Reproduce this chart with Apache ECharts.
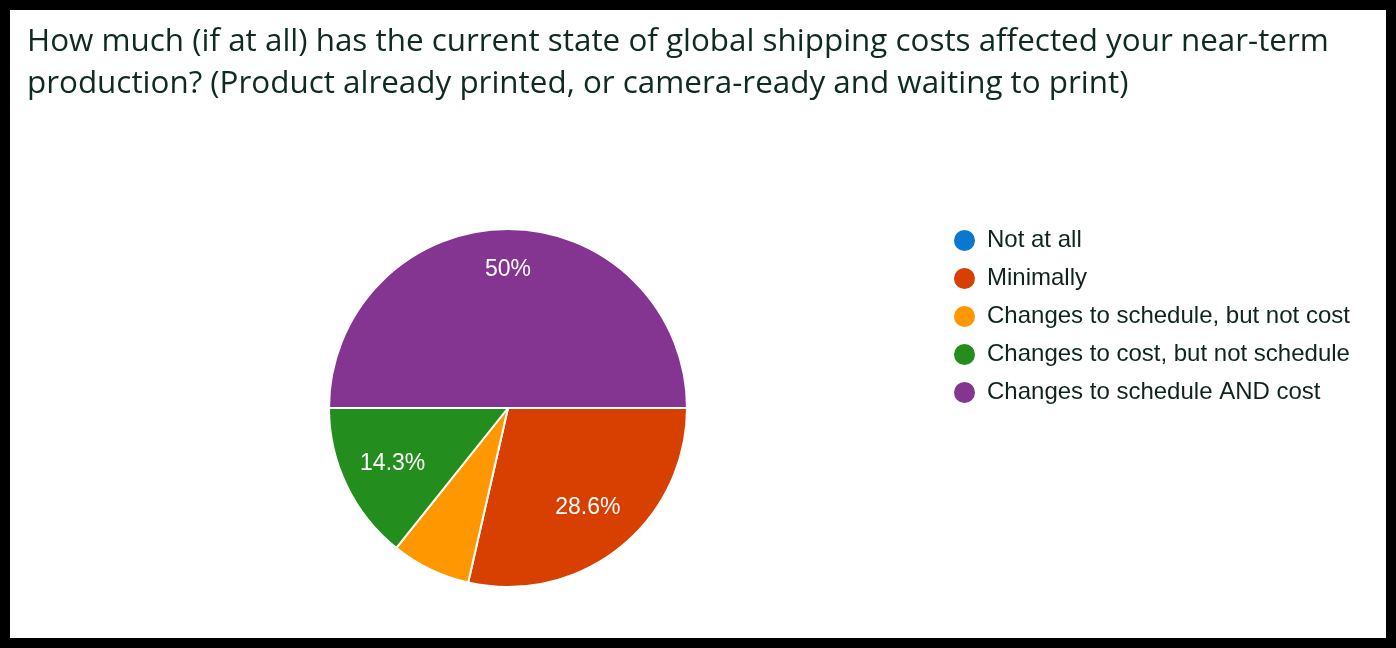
<!DOCTYPE html>
<html>
<head>
<meta charset="utf-8">
<script src="https://cdn.jsdelivr.net/npm/echarts@6/dist/echarts.min.js"></script>
<style>
  html, body { margin: 0; padding: 0; background: #000; width: 1396px; height: 648px; overflow: hidden; }
  #chart { position: absolute; left: 10px; top: 10px; width: 1376px; height: 628px; background: #fff; }
</style>
</head>
<body>
<div id="chart"></div>
<script>
const titleText = 'How much (if at all) has the current state of global shipping costs affected your near-term\nproduction? (Product already printed, or camera-ready and waiting to print)';
const categories = ['Not at all', 'Minimally', 'Changes to schedule, but not cost', 'Changes to cost, but not schedule', 'Changes to schedule AND cost'];
const counts = [0, 4, 1, 2, 7];
const colors = ['#0b77d0', '#d74000', '#ff9700', '#238e1e', '#843592'];

const total = counts.reduce((a, b) => a + b, 0);
function pctText(v) {
  const p = v / total * 100;
  if (p < 10) return '';
  let s = p.toFixed(1);
  if (s.endsWith('.0')) s = s.slice(0, -2);
  return s + '%';
}

const chart = echarts.init(document.getElementById('chart'), null, { renderer: 'canvas' });
const pieData = categories.map((c, i) => ({ name: c, value: counts[i], itemStyle: { color: colors[i] } }));
const labelData = categories.map((c, i) => ({
  name: c, value: counts[i],
  label: counts[i] / total === 0.5 ? { offset: [0, -10] } : {}
}));

chart.setOption({
  animation: false,
  title: {
    text: titleText,
    left: 17, top: 11,
    padding: 0,
    textStyle: { fontFamily: 'Open Sans', fontSize: 31.4, fontWeight: 'normal', color: '#0e2a22', lineHeight: 42 }
  },
  legend: {
    orient: 'vertical',
    left: 942, top: 218,
    padding: 0,
    icon: 'circle',
    itemWidth: 23, itemHeight: 23,
    itemGap: 13,
    data: categories,
    selectedMode: false,
    textStyle: { fontFamily: 'Liberation Sans, Arial', fontSize: 24, lineHeight: 23, color: '#10241d', padding: [0, 0, 0, 6] }
  },
  series: [
    {
      type: 'pie',
      center: [498, 398],
      radius: [0, 179],
      startAngle: 0,
      clockwise: true,
      avoidLabelOverlap: false,
      label: { show: false },
      labelLine: { show: false },
      itemStyle: { borderColor: '#fff', borderWidth: 2 },
      emphasis: { disabled: true },
      data: pieData
    },
    {
      type: 'pie',
      center: [498, 398],
      radius: [0, 250],
      startAngle: 0,
      clockwise: true,
      silent: true,
      avoidLabelOverlap: false,
      itemStyle: { color: 'rgba(0,0,0,0)' },
      label: {
        show: true, position: 'inside',
        formatter: p => pctText(p.value),
        color: '#fff', fontFamily: 'Liberation Sans, Arial', fontSize: 23
      },
      labelLine: { show: false },
      emphasis: { disabled: true },
      tooltip: { show: false },
      data: labelData,
      legendHoverLink: false
    }
  ]
});
</script>
</body>
</html>
